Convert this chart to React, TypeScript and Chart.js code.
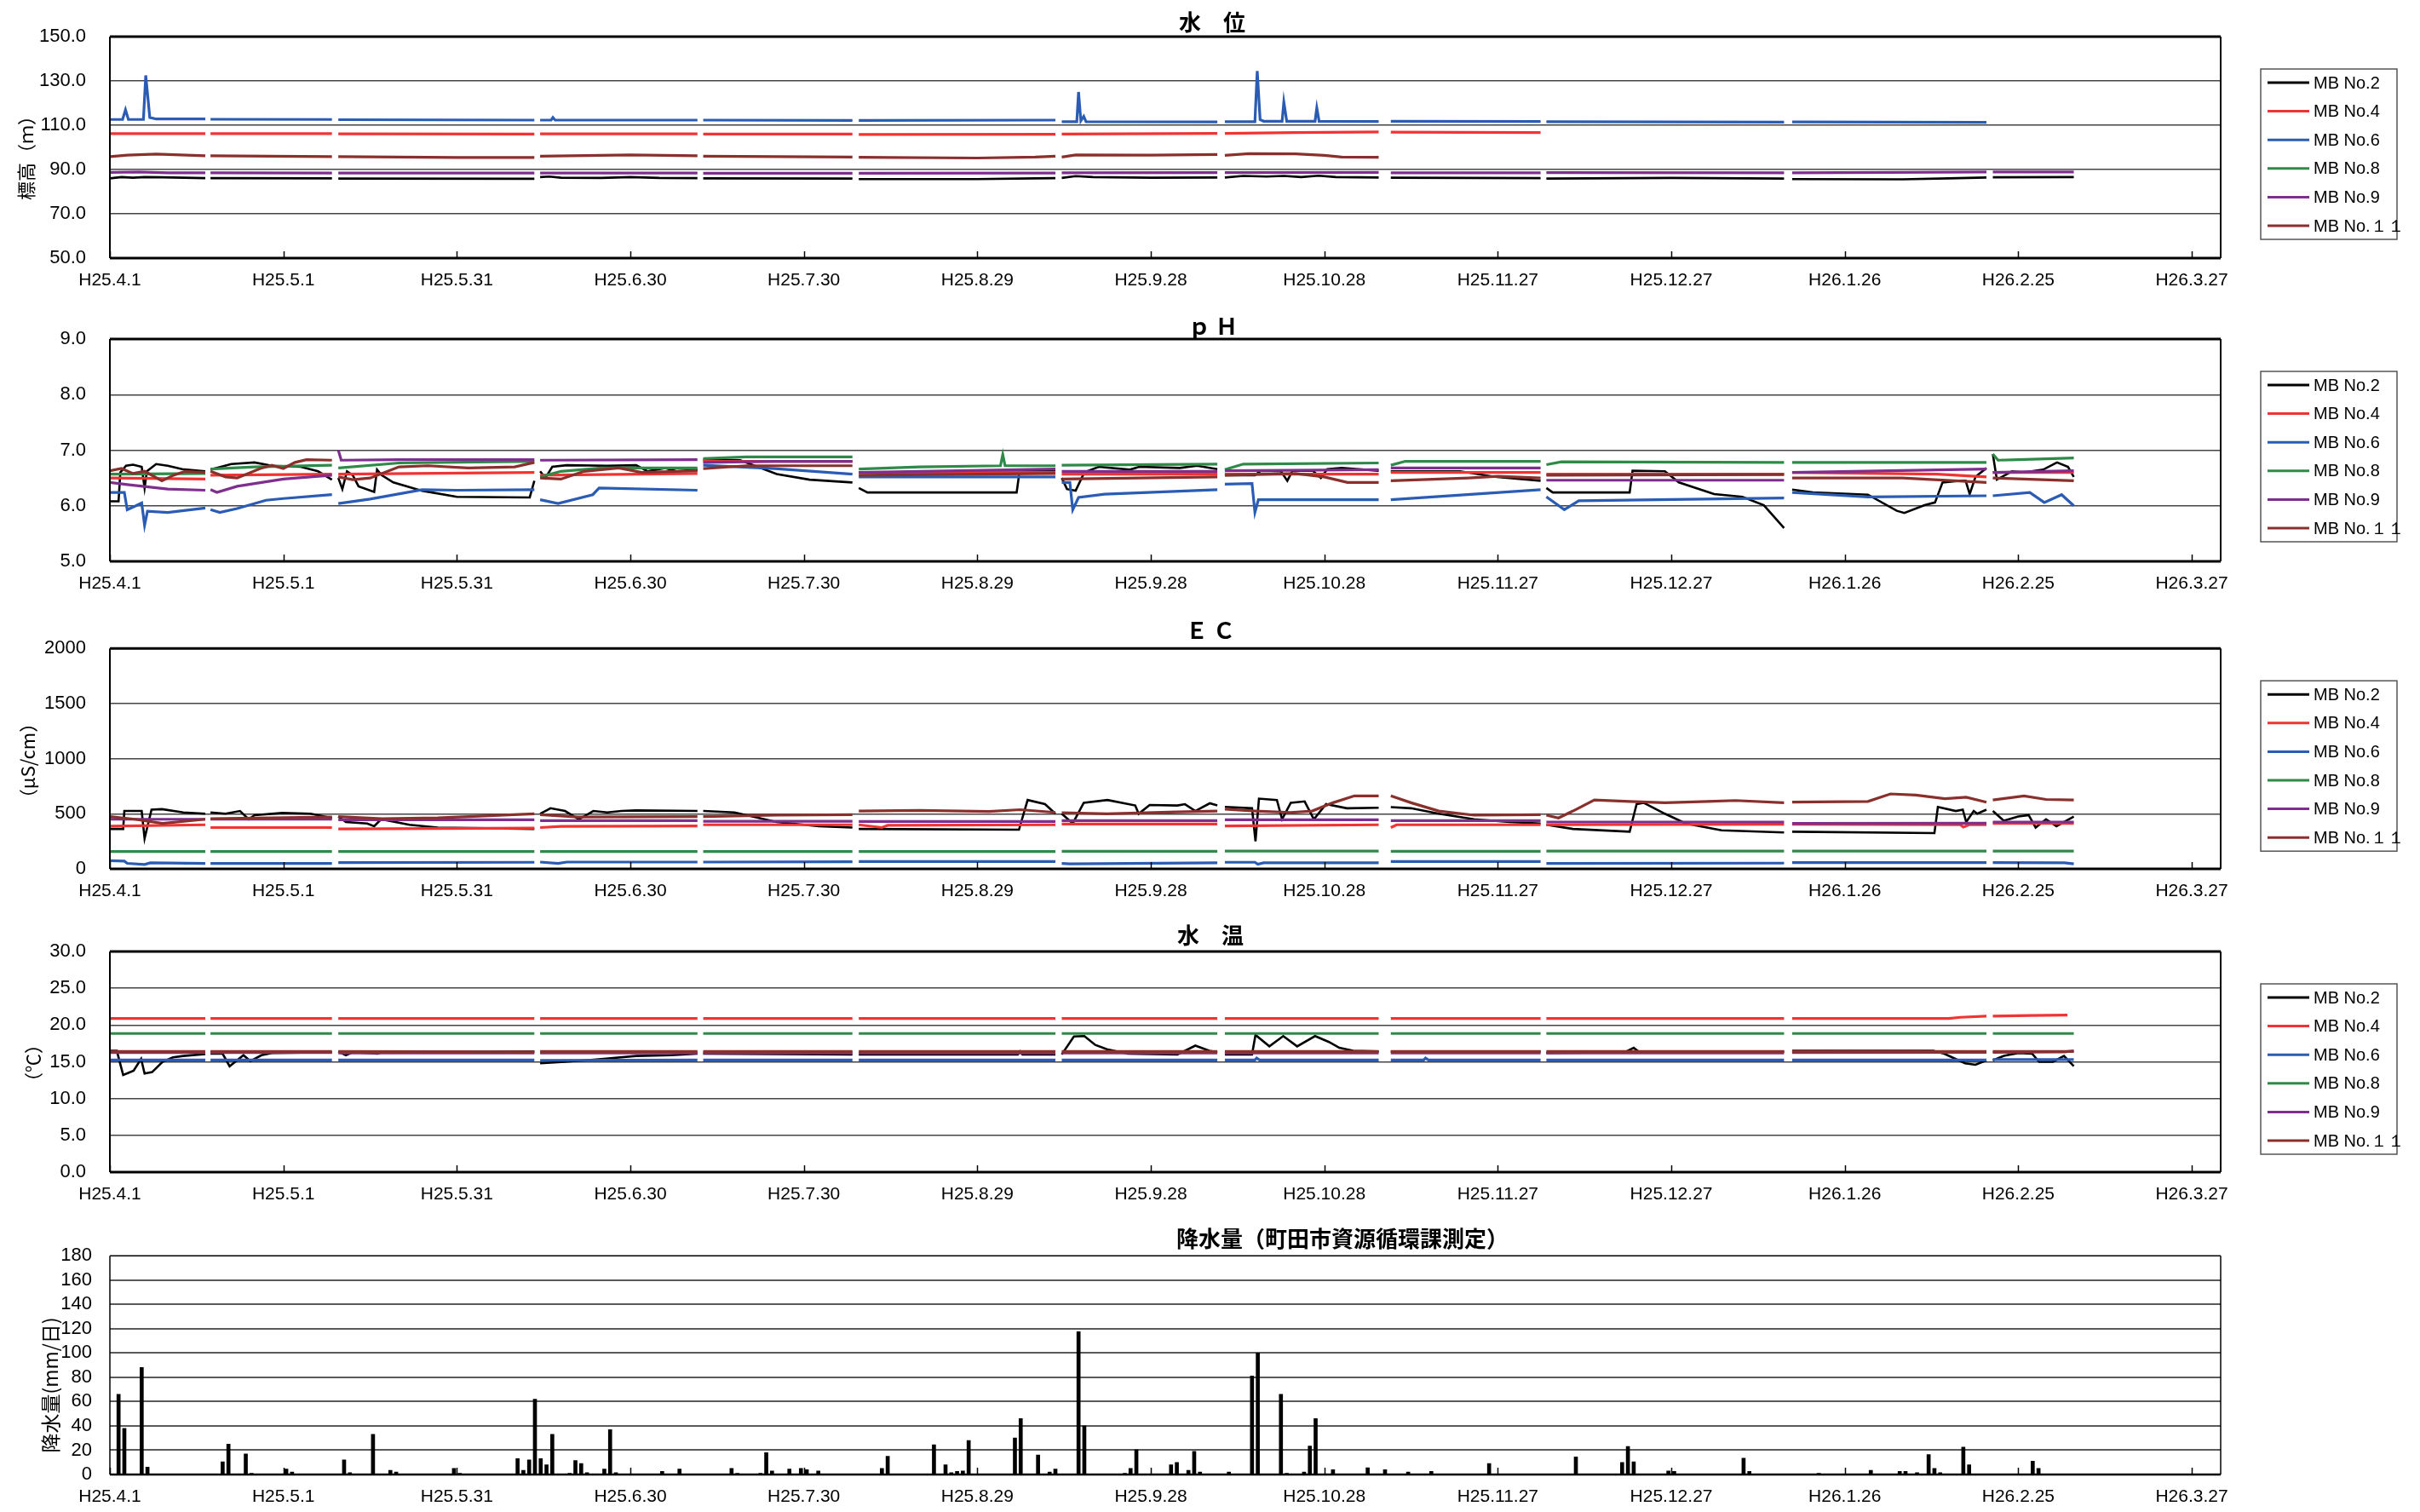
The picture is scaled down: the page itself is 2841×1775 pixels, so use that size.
import React, { useEffect, useRef } from "react";
import { Chart, registerables } from "chart.js";
Chart.register(...registerables);

type P = [number, number] | null;

const xTickLabels = ["H25.4.1", "H25.5.1", "H25.5.31", "H25.6.30", "H25.7.30", "H25.8.29", "H25.9.28", "H25.10.28", "H25.11.27", "H25.12.27", "H26.1.26", "H26.2.25", "H26.3.27"];
const seriesNames = ["MB No.2", "MB No.4", "MB No.6", "MB No.8", "MB No.9", "MB No.１１"];
const seriesColors = ["#000000", "#f03434", "#2a5cb4", "#2f8a48", "#7e2f8e", "#8a302c"];

// ---- 水位 (m) ----
const levelMB2: P[] = [[0,86.0],[2,86.6],[4,86.3],[6,86.6],[9,86.5],[16.5,86.1],null,[17.4,86.1],[38.4,86.0],null,[39.5,85.9],[73.4,85.8],null,[74.4,86.6],[76,86.8],[78,86.3],[85,86.2],[90,86.6],[95,86.2],[101.6,86.1],null,[102.6,86.0],[128.4,85.9],null,[129.5,85.7],[150,85.7],[160,86.0],[163.5,86.1],null,[164.6,86.2],[167,87.0],[170,86.6],[180,86.3],[191.5,86.4],null,[192.8,86.4],[196,87.1],[200,86.8],[203,87.1],[206,86.6],[209,87.2],[212,86.6],[219.4,86.4],null,[221.5,86.3],[247.4,86.1],null,[248.4,85.9],[270,86.2],[289.5,85.9],null,[290.9,85.7],[310,85.6],[318,86.0],[324.5,86.4],null,[325.6,86.5],[339.6,86.6]];
const levelMB4: P[] = [[0,106.2],[16.5,106.2],null,[17.4,106.2],[38.4,106.2],null,[39.5,106.1],[73.4,106.0],null,[74.4,106.1],[101.6,106.1],null,[102.6,106.0],[128.4,106.0],null,[129.5,105.8],[163.5,105.9],null,[164.6,106.0],[191.5,106.3],null,[192.8,106.3],[205,106.7],[219.4,107.0],null,[221.5,106.9],[247.4,106.7]];
const levelMB6: P[] = [[0,112.6],[2.2,112.6],[2.7,117],[3.2,112.6],[5.8,112.6],[6.2,132.5],[6.9,113.5],[8,112.8],[16.5,112.8],null,[17.4,112.7],[38.4,112.6],null,[39.5,112.5],[73.4,112.3],null,[74.4,112.3],[76.3,112.3],[76.6,113.5],[77,112.3],[101.6,112.3],null,[102.6,112.3],[128.4,112.2],null,[129.5,112.2],[163.5,112.3],null,[164.6,111.6],[167.2,111.6],[167.5,125],[167.9,112],[168.4,114],[168.8,111.6],[191.5,111.5],null,[192.8,111.6],[198,111.6],[198.4,134.5],[198.9,112.5],[199.5,111.8],[202.7,111.8],[203,120.5],[203.5,111.8],[208.4,111.8],[208.7,117.8],[209.1,111.8],[219.4,111.7],null,[221.5,111.8],[247.4,111.7],null,[248.4,111.6],[289.5,111.4],null,[290.9,111.5],[324.5,111.3]];
const levelMB8: P[] = [];
const levelMB9: P[] = [[0,88.7],[5,88.9],[10,88.5],[16.5,88.5],null,[17.4,88.5],[38.4,88.4],null,[39.5,88.4],[73.4,88.4],null,[74.4,88.4],[101.6,88.4],null,[102.6,88.3],[128.4,88.3],null,[129.5,88.3],[163.5,88.4],null,[164.6,88.5],[191.5,88.6],null,[192.8,88.6],[219.4,88.7],null,[221.5,88.5],[247.4,88.5],null,[248.4,88.6],[289.5,88.5],null,[290.9,88.5],[324.5,88.9],null,[325.6,88.9],[339.6,88.9]];
const levelMB11: P[] = [[0,95.8],[3,96.5],[8,97.0],[16.5,96.2],null,[17.4,96.2],[38.4,95.8],null,[39.5,95.8],[60,95.4],[73.4,95.4],null,[74.4,96.0],[90,96.6],[101.6,96.2],null,[102.6,96.0],[128.4,95.6],null,[129.5,95.5],[150,95.2],[160,95.6],[163.5,96.0],null,[164.6,95.6],[167,96.6],[180,96.5],[191.5,96.8],null,[192.8,96.4],[197,97.2],[205,97.1],[210,96.4],[213,95.6],[219.4,95.5]];

// ---- pH ----
const phMB2: P[] = [[0,6.08],[1.5,6.08],[1.8,6.6],[2.8,6.72],[4,6.74],[5.5,6.7],[6,6.32],[6.4,6.62],[8,6.75],[10,6.72],[12.5,6.66],[16.5,6.62],null,[17.4,6.65],[21,6.75],[25,6.78],[28,6.72],[33,6.7],[36,6.62],[38.4,6.47],null,[39.5,6.5],[40.2,6.3],[41,6.62],[42,6.55],[43,6.35],[45.7,6.25],[46.2,6.65],[47,6.55],[49,6.42],[54,6.27],[60,6.16],[72.6,6.15],[73.4,6.45],null,[74.4,6.62],[75.3,6.5],[76.5,6.7],[79,6.73],[86,6.72],[91,6.73],[93,6.62],[96,6.68],[98,6.62],[101.6,6.65],null,[102.6,6.83],[109,6.82],[115.3,6.57],[121,6.47],[128.4,6.42],null,[129.5,6.32],[131,6.24],[156.8,6.24],[157.3,6.62],[163.5,6.62],null,[164.6,6.5],[165.5,6.3],[167,6.27],[168.5,6.6],[171,6.7],[176.4,6.65],[178,6.7],[185,6.68],[188,6.72],[191.5,6.66],null,[192.8,6.55],[198,6.55],[199,6.63],[202.5,6.62],[203.6,6.45],[204.5,6.63],[208,6.63],[209.4,6.5],[210.5,6.66],[213,6.68],[219.4,6.63],null,[221.5,6.62],[233.5,6.62],[239.5,6.52],[247.4,6.45],null,[248.4,6.32],[249.5,6.24],[262.8,6.24],[263.3,6.63],[268.9,6.62],[271.3,6.42],[277.4,6.21],[282.3,6.16],[286,6.01],[289.5,5.6],null,[290.9,6.29],[294.5,6.24],[304,6.2],[309,5.91],[310.3,5.87],[313.8,6.01],[315.6,6.06],[316.9,6.42],[319.8,6.45],[320.9,6.45],[321.6,6.21],[322.6,6.52],[324.5,6.68],null,[325.6,6.93],[326.3,6.47],[328.9,6.62],[331,6.6],[334.3,6.65],[336.7,6.78],[338.6,6.7],[339.6,6.52]];
const phMB4: P[] = [[0,6.5],[16.5,6.48],null,[17.4,6.55],[38.4,6.57],null,[39.5,6.57],[73.4,6.6],null,[74.4,6.55],[101.6,6.58],null,[102.6,6.8],[128.4,6.8],null,[129.5,6.6],[163.5,6.6],null,[164.6,6.57],[191.5,6.57],null,[192.8,6.57],[219.4,6.57],null,[221.5,6.6],[247.4,6.6],null,[248.4,6.57],[289.5,6.57],null,[290.9,6.6],[316,6.57],[324.5,6.52],null,[325.6,6.6],[339.6,6.6]];
const phMB6: P[] = [[0,6.24],[2.5,6.24],[3,5.93],[4.5,6.0],[5.5,6.05],[6,5.65],[6.5,5.9],[10,5.88],[16.5,5.96],null,[17.4,5.93],[19,5.88],[22,5.95],[27,6.1],[30,6.13],[38.4,6.2],null,[39.5,6.04],[45,6.12],[54,6.29],[60,6.28],[73.4,6.29],null,[74.4,6.11],[77.5,6.04],[83.5,6.2],[84.6,6.32],[101.6,6.28],null,[102.6,6.73],[115,6.67],[128.4,6.57],null,[129.5,6.52],[163.5,6.52],null,[164.6,6.42],[166,6.42],[166.5,5.93],[167.5,6.15],[172,6.21],[191.5,6.29],null,[192.8,6.39],[197.5,6.4],[198,5.88],[198.6,6.11],[219.4,6.11],null,[221.5,6.11],[247.4,6.29],null,[248.4,6.16],[251.5,5.93],[254,6.09],[289.5,6.14],null,[290.9,6.24],[304,6.16],[324.5,6.18],null,[325.6,6.18],[332,6.24],[334.5,6.06],[337.5,6.2],[339.6,6.0]];
const phMB8: P[] = [[0,6.57],[16.5,6.58],null,[17.4,6.66],[25,6.7],[38.4,6.73],null,[39.5,6.68],[50,6.77],[73.4,6.8],null,[74.4,6.52],[78,6.62],[85,6.68],[101.6,6.68],null,[102.6,6.85],[110,6.88],[128.4,6.88],null,[129.5,6.66],[140,6.7],[154,6.72],[154.4,6.92],[154.8,6.72],[163.5,6.72],null,[164.6,6.73],[191.5,6.75],null,[192.8,6.65],[196,6.75],[219.4,6.77],null,[221.5,6.73],[224,6.8],[247.4,6.8],null,[248.4,6.74],[251,6.79],[289.5,6.78],null,[290.9,6.78],[324.5,6.78],null,[325.6,6.93],[326.5,6.82],[330,6.83],[339.6,6.86]];
const phMB9: P[] = [[0,6.42],[3,6.38],[10,6.3],[16.5,6.28],null,[17.4,6.29],[18.5,6.24],[22,6.35],[30,6.48],[38.4,6.55],null,[39.5,7.0],[40,6.82],[50,6.83],[73.4,6.83],null,[74.4,6.82],[101.6,6.83],null,[102.6,6.78],[115,6.8],[128.4,6.8],null,[129.5,6.6],[163.5,6.66],null,[164.6,6.62],[191.5,6.62],null,[192.8,6.63],[219.4,6.65],null,[221.5,6.68],[247.4,6.68],null,[248.4,6.46],[289.5,6.46],null,[290.9,6.6],[324.5,6.66],null,[325.6,6.6],[339.6,6.63]];
const phMB11: P[] = [[0,6.63],[2,6.67],[4,6.58],[6,6.62],[9,6.45],[11,6.55],[13,6.62],[16.5,6.6],null,[17.4,6.62],[20,6.52],[22,6.5],[26,6.67],[28,6.73],[30,6.67],[32,6.78],[34,6.83],[38.4,6.82],null,[39.5,6.52],[42,6.47],[45,6.5],[50,6.7],[55,6.72],[62,6.68],[70,6.7],[73.4,6.78],null,[74.4,6.5],[78,6.48],[82,6.62],[88,6.68],[92,6.6],[101.6,6.63],null,[102.6,6.67],[110,6.72],[128.4,6.72],null,[129.5,6.55],[163.5,6.58],null,[164.6,6.48],[191.5,6.52],null,[192.8,6.55],[205,6.58],[210,6.52],[214,6.42],[219.4,6.42],null,[221.5,6.45],[235,6.5],[240,6.53],[247.4,6.5],null,[248.4,6.55],[289.5,6.56],null,[290.9,6.5],[310,6.5],[324.5,6.42],null,[325.6,6.5],[339.6,6.45]];

// ---- EC (μS/cm) ----
const ecMB2: P[] = [[0,362],[2.3,362],[2.5,525],[5.5,525],[6,275],[7.2,537],[9,542],[12.7,512],[16.5,500],null,[17.4,512],[20,500],[22.5,525],[24,450],[25,487],[29.8,507],[34.7,500],[38.4,462],null,[39.5,475],[40.8,425],[44.5,412],[45.7,387],[46.9,450],[51.8,400],[56.7,375],[73.4,362],null,[74.4,500],[76.2,550],[78.7,525],[81.1,450],[83.6,525],[86,512],[88.5,525],[91,530],[101.6,525],null,[102.6,525],[108,512],[115.3,425],[122.6,387],[128.4,375],null,[129.5,362],[157.2,355],[158.7,625],[161.7,587],[163.5,500],null,[164.6,500],[166.5,412],[168.4,600],[172.5,625],[177.3,575],[177.9,500],[179.8,580],[184.6,575],[185.9,587],[187.7,525],[190.2,595],[191.5,575],null,[192.8,562],[197.5,550],[198.1,250],[198.7,637],[201.8,625],[202.7,450],[204.2,600],[206.6,612],[208.2,450],[210.3,587],[213.9,550],[219.4,555],null,[221.5,560],[225,550],[229.8,500],[235.9,450],[242,425],[247.4,412],null,[248.4,400],[253,362],[262.8,337],[264,587],[265.2,600],[268.9,500],[272.5,412],[278.7,350],[289.5,330],null,[290.9,337],[315.5,325],[316.1,562],[319.2,525],[320.4,537],[321,425],[322.3,525],[322.9,500],[324.5,537],null,[325.6,525],[327.5,437],[330,475],[331.8,487],[333,375],[334.8,450],[336.6,387],[339.6,475]];
const ecMB4: P[] = [[0,387],[16.5,400],null,[17.4,375],[38.4,375],null,[39.5,362],[73.4,370],null,[74.4,375],[78,385],[101.6,390],null,[102.6,400],[128.4,400],null,[129.5,400],[133.5,375],[134.5,395],[163.5,400],null,[164.6,407],[191.5,407],null,[192.8,390],[219.4,400],null,[221.5,375],[222.5,400],[247.4,400],null,[248.4,400],[289.5,405],null,[290.9,405],[320,400],[320.5,380],[321.5,400],[324.5,400],null,[325.6,412],[339.6,412]];
const ecMB6: P[] = [[0,75],[2.5,70],[3,50],[6,40],[7,55],[16.5,50],null,[17.4,50],[38.4,50],null,[39.5,57],[73.4,60],null,[74.4,62],[77.5,50],[79,62],[101.6,62],null,[102.6,62],[128.4,65],null,[129.5,67],[163.5,67],null,[164.6,50],[166,45],[191.5,55],null,[192.8,60],[198,60],[198.5,42],[199.5,55],[219.4,55],null,[221.5,67],[247.4,67],null,[248.4,50],[289.5,52],null,[290.9,57],[324.5,57],null,[325.6,57],[338,55],[339.6,45]];
const ecMB8: P[] = [[0,157],[16.5,157],null,[17.4,157],[38.4,157],null,[39.5,157],[73.4,157],null,[74.4,158],[101.6,158],null,[102.6,158],[128.4,158],null,[129.5,158],[163.5,158],null,[164.6,160],[191.5,160],null,[192.8,162],[219.4,162],null,[221.5,160],[247.4,160],null,[248.4,162],[289.5,162],null,[290.9,162],[324.5,162],null,[325.6,162],[339.6,162]];
const ecMB9: P[] = [[0,450],[16.5,450],null,[17.4,450],[38.4,450],null,[39.5,445],[73.4,445],null,[74.4,437],[101.6,437],null,[102.6,432],[128.4,432],null,[129.5,430],[163.5,430],null,[164.6,437],[191.5,437],null,[192.8,445],[219.4,445],null,[221.5,437],[247.4,437],null,[248.4,425],[289.5,425],null,[290.9,412],[324.5,415],null,[325.6,425],[339.6,425]];
const ecMB11: P[] = [[0,475],[4.3,450],[9.1,412],[16.5,450],null,[17.4,455],[38.4,470],null,[39.5,475],[47,455],[56.7,462],[73.4,500],null,[74.4,492],[81,470],[101.6,475],null,[102.6,475],[115.3,487],[128.4,492],null,[129.5,525],[140,530],[152,520],[157.4,537],[163.5,512],null,[164.6,510],[172.4,500],[184.6,517],[191.5,525],null,[192.8,542],[198.1,525],[204.2,512],[207.9,525],[211.5,600],[215.2,662],[219.4,662],null,[221.5,662],[225,600],[229.8,525],[235.9,487],[247.4,492],null,[248.4,487],[250.5,462],[253,525],[256.7,625],[262.8,612],[268.9,600],[276.2,612],[281.1,620],[289.5,600],null,[290.9,605],[304,612],[307.9,680],[312.3,670],[317.3,637],[321,650],[324.5,605],null,[325.6,625],[331,662],[334.8,630],[339.6,625]];

// ---- 水温 (℃) ----
const tempMB2: P[] = [[0,16.5],[1.2,16.5],[2.3,13.2],[4.1,13.8],[5.4,15.4],[6,13.4],[7.3,13.6],[9.1,15.0],[10.9,15.6],[12.7,15.8],[16.5,16.06],null,[17.4,16.1],[19.5,16.1],[20.7,14.4],[23.1,15.9],[24.3,15.1],[26.2,15.9],[28,16.2],[38.4,16.3],null,[39.5,16.4],[40.8,15.9],[42,16.3],[46.3,16.1],[47,16.3],[73.4,16.4],null,[74.4,14.8],[78.7,15.0],[82.3,15.2],[85.4,15.4],[91,15.8],[97,15.9],[101.6,16.1],null,[102.6,16.1],[128.4,16.0],null,[129.5,16.0],[157,16.0],[157.4,16.4],[157.8,16.0],[163.5,16.0],null,[164.6,16.0],[166.7,18.45],[168.5,18.5],[170.4,17.3],[172.4,16.7],[176,16.1],[184.6,16.0],[187.7,17.2],[190.1,16.5],[191.5,16.3],null,[192.8,16.0],[197.5,16.0],[198.1,18.65],[200.5,17.1],[202.9,18.5],[205.3,17.1],[208.4,18.5],[210.8,17.7],[212.6,16.9],[215,16.5],[219.4,16.4],null,[221.5,16.4],[247.4,16.4],null,[248.4,16.2],[262,16.3],[263.5,16.9],[264.5,16.3],[289.5,16.4],null,[290.9,16.5],[315.3,16.5],[317.2,16.1],[320.8,14.8],[322.6,14.6],[324.5,15.2],null,[325.6,15.2],[327.5,15.8],[330,16.2],[332.4,16.1],[333.6,15.0],[336,15.0],[337.9,15.8],[339.6,14.4]];
const tempMB4: P[] = [[0,20.9],[16.5,20.9],null,[17.4,20.9],[38.4,20.9],null,[39.5,20.9],[73.4,20.9],null,[74.4,20.9],[101.6,20.9],null,[102.6,20.9],[128.4,20.9],null,[129.5,20.9],[163.5,20.9],null,[164.6,20.9],[191.5,20.9],null,[192.8,20.9],[219.4,20.9],null,[221.5,20.9],[247.4,20.9],null,[248.4,20.9],[289.5,20.9],null,[290.9,20.9],[318,20.9],[320,21.05],[324.5,21.2],null,[325.6,21.2],[332,21.3],[338.5,21.35]];
const tempMB6: P[] = [[0,15.25],[16.5,15.25],null,[17.4,15.25],[38.4,15.25],null,[39.5,15.25],[73.4,15.25],null,[74.4,15.2],[101.6,15.25],null,[102.6,15.25],[128.4,15.25],null,[129.5,15.25],[163.5,15.25],null,[164.6,15.25],[191.5,15.25],null,[192.8,15.25],[198,15.25],[198.3,15.5],[198.8,15.25],[219.4,15.25],null,[221.5,15.25],[227.2,15.25],[227.5,15.5],[228,15.25],[247.4,15.25],null,[248.4,15.25],[289.5,15.25],null,[290.9,15.25],[324.5,15.25],null,[325.6,15.3],[339.6,15.3]];
const tempMB8: P[] = [[0,18.85],[16.5,18.85],null,[17.4,18.85],[38.4,18.85],null,[39.5,18.85],[73.4,18.85],null,[74.4,18.85],[101.6,18.85],null,[102.6,18.85],[128.4,18.85],null,[129.5,18.85],[163.5,18.85],null,[164.6,18.85],[191.5,18.85],null,[192.8,18.85],[219.4,18.85],null,[221.5,18.85],[247.4,18.85],null,[248.4,18.85],[289.5,18.85],null,[290.9,18.85],[324.5,18.85],null,[325.6,18.85],[339.6,18.85]];
const tempMB9: P[] = [[0,16.25],[16.5,16.25],null,[17.4,16.25],[38.4,16.25],null,[39.5,16.2],[73.4,16.2],null,[74.4,16.2],[101.6,16.2],null,[102.6,16.2],[128.4,16.2],null,[129.5,16.2],[163.5,16.2],null,[164.6,16.2],[191.5,16.2],null,[192.8,16.2],[219.4,16.2],null,[221.5,16.2],[247.4,16.2],null,[248.4,16.2],[289.5,16.2],null,[290.9,16.25],[324.5,16.3],null,[325.6,16.3],[338,16.35],[339.6,16.5]];
const tempMB11: P[] = [[0,16.4],[16.5,16.4],null,[17.4,16.4],[38.4,16.4],null,[39.5,16.4],[73.4,16.35],null,[74.4,16.4],[101.6,16.4],null,[102.6,16.4],[128.4,16.4],null,[129.5,16.4],[163.5,16.4],null,[164.6,16.4],[191.5,16.4],null,[192.8,16.4],[219.4,16.4],null,[221.5,16.4],[247.4,16.4],null,[248.4,16.4],[289.5,16.4],null,[290.9,16.4],[324.5,16.4],null,[325.6,16.4],[339.6,16.4]];

// ---- 降水量 (mm/日) ----
const rainDays = [1,2,5,6,19,20,23,24,30,31,40,41,45,48,49,59,60,70,71,72,73,74,75,76,79,80,81,82,85,86,87,95,98,107,108,112,113,114,117,119,120,122,133,134,142,144,145,146,147,148,156,157,160,162,163,167,168,175,176,177,183,184,186,187,188,193,197,198,202,203,206,207,208,211,217,220,224,228,238,253,261,262,263,269,270,282,283,295,304,309,310,312,314,315,316,320,321,332,333];
const rainValues = [66,38,88,6,10.5,25,17,1,4.5,2,12,1.5,33,3.5,2,5,1,13,3.5,12,62,13,8,33,1,11.5,9,1.5,4.5,37,1.5,2.5,4.5,5,1,1,18,3,4.5,5,4,3,5,15,24.5,8,1.5,2.5,3,28,30,46,16,2,4.5,117.5,40,1,5,20.5,8,10,3.5,19,2,2,81,100,66,1,2,23.5,46,4,5.5,4,2,2.5,9,14.5,10,23,10.5,3,2.5,13.5,2.5,1,3.5,2.5,2.5,1.5,16.5,5,1.5,22.5,8,11,5];

const W = 2841;
const FONT_NUM = "'Liberation Sans', Arial, sans-serif";
const FONT_JP = "'Noto Sans CJK JP', 'Noto Sans', sans-serif";

const toXY = (arr: P[]) => {
  const out: any[] = [];
  let last = 0;
  for (const p of arr) {
    if (p) { out.push({ x: p[0], y: p[1] }); last = p[0]; }
    else out.push({ x: last + 0.01, y: null });
  }
  return out;
};

type Deco = {
  title: string; titleX: number; titleY: number;
  yTitle?: string; yTitleX?: number; yTitleY?: number; yTitleSize?: number;
  legend: boolean; topW: number; bottomW: number; sideW: number;
};

const decor = (d: Deco) => ({
  id: "decor",
  afterDatasetsDraw(chart: any) {
    const { ctx, chartArea: a } = chart;
    const xs = chart.scales.x;
    ctx.save();
    ctx.strokeStyle = "#000";
    ctx.lineWidth = 1.5;
    xs.ticks.forEach((t: any) => {
      const x = Math.round(xs.getPixelForValue(t.value)) + 0.5;
      ctx.beginPath(); ctx.moveTo(x, a.bottom); ctx.lineTo(x, a.bottom - 8); ctx.stroke();
    });
    ctx.lineWidth = d.sideW;
    ctx.beginPath(); ctx.moveTo(a.left, a.top); ctx.lineTo(a.left, a.bottom); ctx.stroke();
    ctx.beginPath(); ctx.moveTo(a.right, a.top); ctx.lineTo(a.right, a.bottom); ctx.stroke();
    ctx.lineWidth = d.topW;
    ctx.beginPath(); ctx.moveTo(a.left, a.top); ctx.lineTo(a.right, a.top); ctx.stroke();
    ctx.lineWidth = d.bottomW;
    ctx.beginPath(); ctx.moveTo(a.left, a.bottom); ctx.lineTo(a.right, a.bottom); ctx.stroke();
    ctx.restore();
  },
  afterDraw(chart: any) {
    const { ctx, chartArea: a } = chart;
    ctx.save();
    ctx.fillStyle = "#000";
    ctx.font = `bold 26px ${FONT_JP}`;
    ctx.textAlign = "center";
    ctx.textBaseline = "middle";
    ctx.fillText(d.title, d.titleX, d.titleY);
    if (d.yTitle) {
      ctx.save();
      ctx.translate(d.yTitleX!, d.yTitleY!);
      ctx.rotate(-Math.PI / 2);
      ctx.font = `${d.yTitleSize ?? 22}px ${FONT_JP}`;
      ctx.fillText(d.yTitle, 0, 0);
      ctx.restore();
    }
    if (d.legend) {
      const bx = 2654, by = a.top + 38, bw = 160, bh = 200;
      ctx.strokeStyle = "#555";
      ctx.lineWidth = 1.5;
      ctx.strokeRect(bx, by, bw, bh);
      ctx.font = `20px ${FONT_NUM}`;
      ctx.textAlign = "left";
      ctx.textBaseline = "middle";
      seriesNames.forEach((n, i) => {
        const y = by + 16 + i * 33.6;
        ctx.strokeStyle = seriesColors[i];
        ctx.lineWidth = 3;
        ctx.beginPath(); ctx.moveTo(bx + 8, y); ctx.lineTo(bx + 57, y); ctx.stroke();
        ctx.fillStyle = "#000";
        ctx.fillText(n, bx + 62, y + 1);
      });
    }
    ctx.restore();
  },
});

const xScale = (xh: number) => ({
  type: "linear",
  min: 0,
  max: 365,
  offset: false,
  afterFit: (s: any) => { s.height = xh; },
  grid: { display: false, drawTicks: false, offset: false },
  border: { display: false },
  ticks: {
    stepSize: 30,
    includeBounds: false,
    autoSkip: false,
    maxRotation: 0,
    minRotation: 0,
    padding: 14,
    color: "#000",
    font: { family: FONT_NUM, size: 21 },
    callback: (v: any) => xTickLabels[Math.round(Number(v) / 30)] ?? "",
  },
});

const yScale = (min: number, max: number, step: number, dec: number, pad: number, gridColor: string, gridW: number) => ({
  min, max,
  afterFit: (s: any) => { s.width = 129; },
  grid: {
    drawTicks: false,
    lineWidth: gridW,
    color: (c: any) => (c.tick && (c.tick.value === min || c.tick.value === max) ? "rgba(0,0,0,0)" : gridColor),
  },
  border: { display: false },
  ticks: {
    stepSize: step,
    autoSkip: false,
    padding: pad,
    color: "#000",
    font: { family: FONT_NUM, size: 22 },
    callback: (v: any) => Number(v).toFixed(dec),
  },
});

const lineConfig = (series: P[][], min: number, max: number, step: number, dec: number, padTop: number, xh: number, d: Deco) => ({
  type: "line",
  data: {
    datasets: series.map((s, i) => ({
      label: seriesNames[i],
      data: toXY(s),
      borderColor: seriesColors[i],
      backgroundColor: seriesColors[i],
      borderWidth: i === 0 ? 2.6 : 3.2,
      pointRadius: 0,
      tension: 0,
      spanGaps: false,
      order: 6 - i,
    })),
  },
  options: {
    responsive: false,
    animation: false,
    devicePixelRatio: 1,
    events: [],
    layout: { padding: { top: padTop, right: W - 2607, left: 0, bottom: 0 } },
    plugins: { legend: { display: false }, tooltip: { enabled: false }, title: { display: false } },
    scales: { x: xScale(xh), y: yScale(min, max, step, dec, 28, "#444", 1.5) },
  },
  plugins: [decor(d)],
});

const rainConfig = () => ({
  type: "bar",
  data: {
    datasets: [{
      label: "降水量",
      data: rainDays.map((day, i) => ({ x: day + 0.5, y: rainValues[i] })),
      backgroundColor: "#000",
      borderWidth: 0,
      barThickness: 4,
    }],
  },
  options: {
    responsive: false,
    animation: false,
    devicePixelRatio: 1,
    events: [],
    layout: { padding: { top: 29, right: W - 2607, left: 0, bottom: 0 } },
    plugins: { legend: { display: false }, tooltip: { enabled: false }, title: { display: false } },
    scales: { x: xScale(44), y: yScale(0, 180, 20, 0, 21, "#5a5a5a", 2) },
  },
  plugins: [decor({ title: "降水量（町田市資源循環課測定）", titleX: 1576, titleY: 14, yTitle: "降水量(mm/日)", yTitleX: 59, yTitleY: 186, yTitleSize: 23, legend: false, topW: 1.5, bottomW: 2.5, sideW: 1.5 })],
});

const panels = [
  { top: 0, height: 365, build: () => lineConfig([levelMB2, levelMB4, levelMB6, levelMB8, levelMB9, levelMB11], 50, 150, 20, 1, 43, 62, { title: "水　位", titleX: 1423, titleY: 26, yTitle: "標高（ｍ）", yTitleX: 31, yTitleY: 180, legend: true, topW: 3, bottomW: 3, sideW: 2 }) },
  { top: 350, height: 370, build: () => lineConfig([phMB2, phMB4, phMB6, phMB8, phMB9, phMB11], 5, 9, 1, 1, 48, 61, { title: "ｐ Ｈ", titleX: 1424, titleY: 33, legend: true, topW: 3, bottomW: 3, sideW: 2 }) },
  { top: 720, height: 355, build: () => lineConfig([ecMB2, ecMB4, ecMB6, ecMB8, ecMB9, ecMB11], 0, 2000, 500, 0, 33, 55, { title: "Ｅ Ｃ", titleX: 1421, titleY: 20, yTitle: "（μS/cm）", yTitleX: 33, yTitleY: 173, legend: true, topW: 3, bottomW: 3, sideW: 2 }) },
  { top: 1075, height: 365, build: () => lineConfig([tempMB2, tempMB4, tempMB6, tempMB8, tempMB9, tempMB11], 0, 30, 5, 1, 42, 64, { title: "水　温", titleX: 1421, titleY: 23, yTitle: "（℃）", yTitleX: 39, yTitleY: 173, legend: true, topW: 3, bottomW: 3, sideW: 2 }) },
  { top: 1440, height: 335, build: rainConfig },
];

function Panel({ top, height, build }: { top: number; height: number; build: () => any }) {
  const ref = useRef<HTMLCanvasElement>(null);
  useEffect(() => {
    const chart = new Chart(ref.current as HTMLCanvasElement, build() as any);
    return () => chart.destroy();
  }, []);
  return (
    <canvas
      ref={ref}
      width={W}
      height={height}
      style={{ position: "absolute", left: 0, top, width: W, height, display: "block" }}
    />
  );
}

export default function App() {
  return (
    <div style={{ position: "fixed", left: 0, top: 0, width: W, height: 1775, background: "#fff", overflow: "hidden" }}>
      {panels.map((p, i) => (
        <Panel key={i} top={p.top} height={p.height} build={p.build} />
      ))}
    </div>
  );
}
